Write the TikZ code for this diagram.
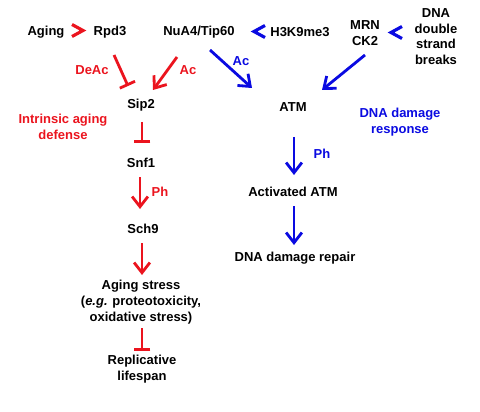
\documentclass[tikz,border=0pt]{standalone}
\usepackage{fontspec}
\setmainfont{Liberation Sans}
\usetikzlibrary{arrows.meta,calc}
\definecolor{cred}{RGB}{235,20,30}
\definecolor{cblue}{RGB}{10,10,225}
\begin{document}
\begin{tikzpicture}[x=0.02cm,y=-0.02cm,
  lbl/.style={inner sep=0pt,align=center,font=\fontsize{7.4}{9}\selectfont\bfseries},
  redlbl/.style={lbl,text=cred},
  bluelbl/.style={lbl,text=cblue},
  redarr/.style={draw=cred,line width=1.6pt,-{Straight Barb[length=5.8pt,width=9pt]}},
  bluearr/.style={draw=cblue,line width=1.6pt,-{Straight Barb[length=5.8pt,width=9pt]}},
  redinh/.style={draw=cred,line width=1.6pt,-{Bar[width=9.5pt]}},
  chev/.style={line width=1.8pt,miter limit=10}]
\useasboundingbox (0,0) rectangle (480,412);
% nodes
\node[lbl] (aging) at (46,32) {Aging};
\node[lbl] (rpd3) at (110,32) {Rpd3};
\node[lbl] (nua4) at (199,32) {NuA4/Tip60};
\node[lbl] (h3k) at (300,32) {H3K9me3};
\node[lbl] (mrn) at (365,33) {MRN\\CK2};
\node[lbl] (dsb) at (436,36.5) {DNA\\double\\strand\\breaks};
\node[lbl] (sip2) at (141,105) {Sip2};
\node[lbl] (atm) at (293,107) {ATM};
\node[lbl] (snf1) at (141,163) {Snf1};
\node[lbl] (sch9) at (143,229) {Sch9};
\node[lbl] (stress) at (141,302) {Aging stress\\(\textit{e.g.} proteotoxicity,\\oxidative stress)};
\node[lbl] (lifespan) at (142,369) {Replicative\\lifespan};
\node[lbl] (actatm) at (293,192) {Activated ATM};
\node[lbl] (repair) at (295,258) {DNA damage repair};
% labels
\node[redlbl] (deac) at (92,70) {DeAc};
\node[redlbl] (acred) at (188,70) {Ac};
\node[bluelbl] (acblue) at (241,61) {Ac};
\node[redlbl] (phred) at (160,192) {Ph};
\node[bluelbl] (phblue) at (322,154) {Ph};
\node[redlbl] (defense) at (63,127) {Intrinsic aging\\defense};
\node[bluelbl] (response) at (400,122) {DNA damage\\response};
% chevrons
\draw[chev,cred] (72,24.5) -- (83,30.5) -- (72,36.5);
\draw[chev,cblue] (265,25.5) -- (254,31.5) -- (265,37.5);
\draw[chev,cblue] (402,26.5) -- (391,32.5) -- (402,38.5);
% connectors
\draw[redinh] ($(rpd3)+(4,23)$) -- ($(sip2)+(-13,-19)$);
\draw[redarr] ($(nua4)+(-22,25)$) -- ($(sip2)+(12,-15)$);
\draw[bluearr] ($(nua4)+(11,18)$) -- ($(atm)+(-41,-19)$);
\draw[bluearr] ($(mrn)+(0,22)$) -- ($(atm)+(29,-17)$);
\draw[redinh] ($(sip2)+(1,17)$) -- ($(snf1)+(1,-20)$);
\draw[redarr] ($(snf1)+(-1,14)$) -- ($(sch9)+(-3,-20)$);
\draw[redarr] ($(sch9)+(-1,14)$) -- ($(stress)+(1,-27)$);
\draw[redinh] ($(stress)+(1,26)$) -- ($(lifespan)+(0,-18)$);
\draw[bluearr] ($(atm)+(1,30)$) -- ($(actatm)+(1,-17)$);
\draw[bluearr] ($(actatm)+(1,14)$) -- ($(repair)+(-1,-13)$);
\end{tikzpicture}
\end{document}
